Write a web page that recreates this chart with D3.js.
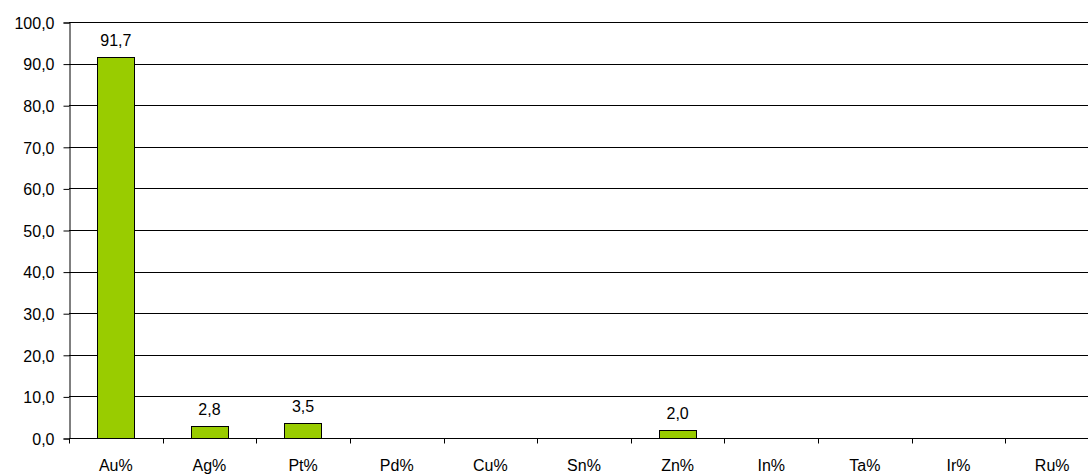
<!DOCTYPE html>
<html>
<head>
<meta charset="utf-8">
<script src="https://cdn.jsdelivr.net/npm/d3@7"></script>
<style>
  body { margin: 0; background: #fff; }
  text { font-family: "Liberation Sans", Arial, sans-serif; font-size: 16px; fill: #000; }
</style>
</head>
<body>
<div id="chart"></div>
<script>
// datos
const categorias = ["Au%", "Ag%", "Pt%", "Pd%", "Cu%", "Sn%", "Zn%", "In%", "Ta%", "Ir%", "Ru%"];
const valores = [91.7, 2.8, 3.5, 0, 0, 0, 2.0, 0, 0, 0, 0];
const ticksY = [0, 10, 20, 30, 40, 50, 60, 70, 80, 90, 100];

const W = 1088, H = 474;
const margin = { top: 22, left: 69, bottom: 36 };
const plotRight = 1099;

const fmt = (v) => d3.format(".1f")(v).replace(".", ",");

const svg = d3.select("#chart").append("svg")
  .attr("width", W)
  .attr("height", H);

const x = d3.scaleBand()
  .domain(categorias)
  .range([margin.left, plotRight])
  .paddingInner(0.6)
  .paddingOuter(0.3);

const y = d3.scaleLinear()
  .domain([0, 100])
  .range([H - margin.bottom, margin.top]);

// lineas de grilla
svg.append("g")
  .selectAll("line")
  .data(ticksY.filter((d) => d > 0))
  .enter()
  .append("line")
  .attr("x1", margin.left)
  .attr("x2", plotRight)
  .attr("y1", (d) => Math.round(y(d)) + 0.5)
  .attr("y2", (d) => Math.round(y(d)) + 0.5)
  .attr("stroke", "#000")
  .attr("stroke-width", 1);

// eje Y
const ejeY = svg.append("g")
  .attr("transform", "translate(" + (margin.left + 0.5) + ",0.5)")
  .call(d3.axisLeft(y).tickValues(ticksY).tickFormat(fmt).tickSize(6).tickPadding(9));
ejeY.select(".domain").attr("stroke", "#000");
ejeY.selectAll(".tick line").attr("stroke", "#000");
ejeY.selectAll("text")
  .style("font-size", "16px")
  .style("font-family", "'Liberation Sans', Arial, sans-serif")
  .attr("fill", "#000")
  .attr("dy", "0.36em");

// barras
svg.append("g")
  .selectAll("rect")
  .data(valores.map((v, i) => ({ cat: categorias[i], v: v })).filter((d) => d.v > 0))
  .enter()
  .append("rect")
  .attr("x", (d) => Math.round(x(d.cat)) + 0.5)
  .attr("y", (d) => Math.round(y(d.v)) + 0.5)
  .attr("width", Math.round(x.bandwidth()))
  .attr("height", (d) => Math.round(y(0)) - Math.round(y(d.v)))
  .attr("fill", "#99cc00")
  .attr("stroke", "#000")
  .attr("stroke-width", 1);

// etiquetas de valores
svg.append("g")
  .selectAll("text")
  .data(valores.map((v, i) => ({ cat: categorias[i], v: v })).filter((d) => d.v > 0))
  .enter()
  .append("text")
  .attr("x", (d) => x(d.cat) + x.bandwidth() / 2)
  .attr("y", (d) => y(d.v) - 11)
  .attr("text-anchor", "middle")
  .text((d) => fmt(d.v));

// eje X
const xTicks = d3.scaleLinear().domain([0, categorias.length]).range([margin.left, plotRight]);
const ejeX = svg.append("g")
  .attr("transform", "translate(0," + (Math.round(y(0)) + 0.5) + ")");
ejeX.append("line")
  .attr("x1", margin.left)
  .attr("x2", plotRight)
  .attr("stroke", "#000");
ejeX.selectAll("line.tk")
  .data(d3.range(categorias.length + 1))
  .enter()
  .append("line")
  .attr("class", "tk")
  .attr("x1", (d) => Math.round(xTicks(d)) + 0.5)
  .attr("x2", (d) => Math.round(xTicks(d)) + 0.5)
  .attr("y1", 0)
  .attr("y2", 5)
  .attr("stroke", "#000");
ejeX.selectAll("text")
  .data(categorias)
  .enter()
  .append("text")
  .attr("x", (d) => x(d) + x.bandwidth() / 2)
  .attr("y", 32)
  .attr("text-anchor", "middle")
  .text((d) => d);
</script>
</body>
</html>
